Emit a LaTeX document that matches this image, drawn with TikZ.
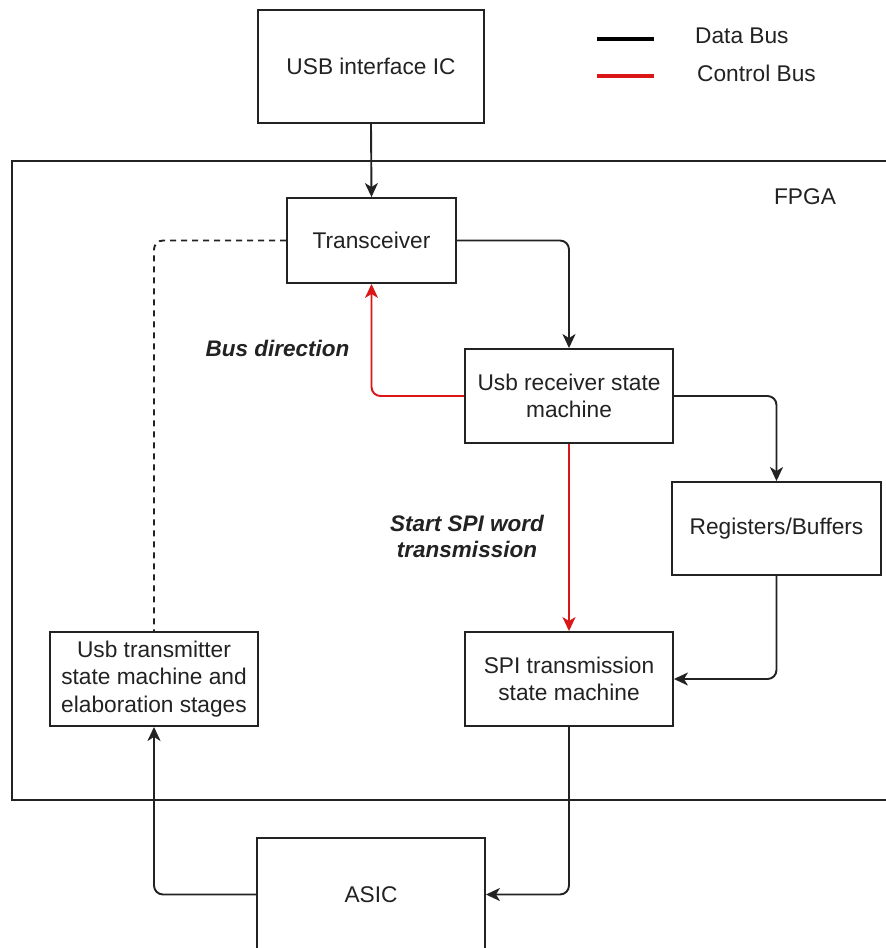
\documentclass[tikz,border=0pt]{standalone}
\usepackage{fontspec}
\setmainfont{Liberation Sans}
\usetikzlibrary{arrows.meta}
\definecolor{ink}{RGB}{34,34,34}
\definecolor{ctrl}{RGB}{218,22,22}
\tikzset{
  block/.style={draw=ink, line width=1.9pt, fill=white, inner sep=0pt,
                align=center, text=ink,
                font=\fontsize{22.7}{27.5}\selectfont},
  bus/.style={draw=ink, line width=1.9pt, rounded corners=9pt,
              -{Stealth[length=14pt,width=13pt,inset=4pt]}},
  ctl/.style={bus, draw=ctrl, -{Stealth[length=14pt,width=13pt,inset=4pt,fill=ctrl]}},
  feedback/.style={draw=ink, line width=1.9pt, rounded corners=9pt,
                   dash pattern=on 6pt off 5pt},
  note/.style={text=ink, align=center, inner sep=0pt,
               font=\fontsize{22.5}{26}\selectfont\bfseries\itshape},
  plain/.style={text=ink, inner sep=0pt, font=\fontsize{22.7}{27.5}\selectfont}
}
\begin{document}
\begin{tikzpicture}[x=1pt, y=-1pt]
  \useasboundingbox (0,0) rectangle (886,948);
  \clip (0,0) rectangle (886,948);
  \fill[white] (0,0) rectangle (886,948);

  % FPGA enclosure (open to the right)
  \draw[ink, line width=1.9pt] (890,161) -- (12,161) -- (12,800) -- (890,800);
  \node[plain] (fpga) at (805,197) {FPGA};

  % legend
  \coordinate (lda) at (597,39);  \coordinate (ldb) at (654,39);
  \coordinate (lca) at (597,76);  \coordinate (lcb) at (654,76);
  \draw[black, line width=4.5pt] (lda) -- (ldb);
  \draw[ctrl, line width=4.5pt] (lca) -- (lcb);
  \node[plain, anchor=west] (ldata) at (695,36) {Data Bus};
  \node[plain, anchor=west] (lctrl) at (697,73) {Control Bus};

  % blocks
  \node[block, minimum width=226pt, minimum height=113pt] (usb)  at (371,66.5)  {USB interface IC};
  \node[block, minimum width=169pt, minimum height=85pt]  (trx)  at (371.5,240.5) {Transceiver};
  \node[block, minimum width=208pt, minimum height=94pt]  (rx)   at (569,396)   {Usb receiver state\\machine};
  \node[block, minimum width=209pt, minimum height=93pt]  (reg)  at (776.5,528.5) {Registers/Buffers};
  \node[block, minimum width=208pt, minimum height=94pt]  (spi)  at (569,679)   {SPI transmission\\state machine};
  \node[block, minimum width=208pt, minimum height=94pt]  (tx)   at (154,679)   {Usb transmitter\\state machine and\\elaboration stages};
  \node[block, minimum width=228pt, minimum height=113pt] (asic) at (371,894.5) {ASIC};

  % data bus
  \draw[bus] (usb.south) -- (trx.north);
  \draw[bus] (trx.east) -| (rx.north);
  \draw[bus] (rx.east) -| (reg.north);
  \draw[bus] (reg.south) |- (spi.east);
  \draw[bus] (spi.south) |- (asic.east);
  \draw[bus] (asic.west) -| (tx.south);

  % control bus
  \draw[ctl] (rx.west) -| (trx.south);
  \draw[ctl] (rx.south) -- (spi.north);

  % return path
  \draw[feedback] (trx.west) -| (tx.north);

  % control labels
  \node[note] (lbdir) at (277.5,348) {Bus direction};
  \node[note] (lbspi) at (467,536) {Start SPI word\\transmission};
\end{tikzpicture}
\end{document}
